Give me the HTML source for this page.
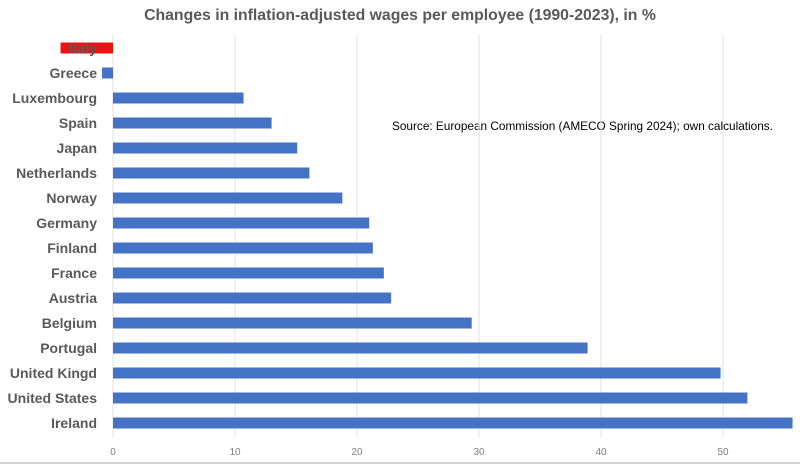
<!DOCTYPE html>
<html><head><meta charset="utf-8"><style>
html,body{margin:0;padding:0;background:#fff;}
svg{display:block;font-family:"Liberation Sans",sans-serif;}
</style></head><body>
<svg id="chart" width="800" height="467">
<text x="400" y="20" text-anchor="middle" font-size="15.8" font-weight="bold" fill="#595959">Changes in inflation-adjusted wages per employee (1990-2023), in %</text>
<text x="392" y="130" font-size="11.8" fill="#000">Source: European Commission (AMECO Spring 2024); own calculations.</text>
<line x1="0" y1="463" x2="800" y2="463" stroke="#d0d0d0" stroke-width="2"/>
<g id="grid"></g><g id="bars"></g><g id="labels"></g><g id="ticks"></g>
</svg>
<script>
const countries=["Italy","Greece","Luxembourg","Spain","Japan","Netherlands","Norway","Germany","Finland","France","Austria","Belgium","Portugal","United Kingd","United States","Ireland"];
const values=[-4.3,-0.9,10.7,13.0,15.1,16.1,18.8,21.0,21.3,22.2,22.8,29.4,38.9,49.8,52.0,55.7];
const tickValues=[0,10,20,30,40,50];
const highlight=["Italy"];
const x=v=>113+v*12.2;
const y=i=>48+i*25;
const NS="http://www.w3.org/2000/svg";
function mk(t,a,p){const e=document.createElementNS(NS,t);for(const k in a)e.setAttribute(k,a[k]);p.appendChild(e);return e;}
const g=document.getElementById('grid'),b=document.getElementById('bars'),l=document.getElementById('labels'),tk=document.getElementById('ticks');
tickValues.forEach(v=>{
 const ln=mk('line',{x1:x(v),x2:x(v),y1:35,y2:437,stroke:'#e0e0e0','stroke-width':1},g);
 
 
 const t=mk('text',{x:x(v),y:455,'text-anchor':'middle','font-size':10,fill:'#7f7f7f'},tk);
 t.textContent=v;
 
 
});
countries.forEach((c,i)=>{
 const v=values[i];
 const r=mk('rect',{x:Math.min(x(0),x(v)),y:y(i)-5.5,width:Math.abs(x(v)-x(0)),height:11,fill:highlight.includes(c)?'#ee1111':'#4472c4'},b);
 
 
 const t=mk('text',{x:97,y:y(i)+5,'text-anchor':'end','font-size':14,'font-weight':'bold',fill:'#595959'},l);
 t.textContent=c;
 
 
});
</script>
</body></html>
